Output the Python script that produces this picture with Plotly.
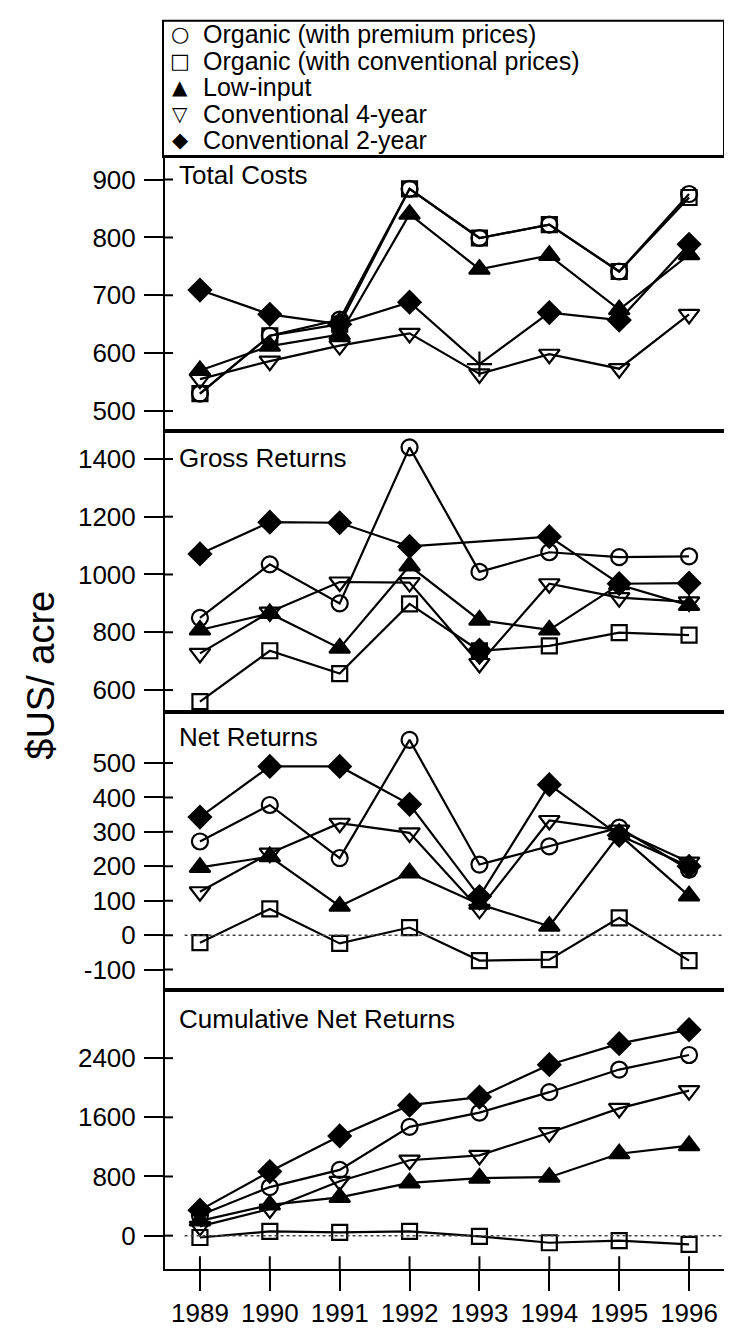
import plotly.graph_objects as go

years = [1989, 1990, 1991, 1992, 1993, 1994, 1995, 1996]

series_names = ["Organic (with premium prices)", "Organic (with conventional prices)",
                "Low-input", "Conventional 4-year", "Conventional 2-year"]

# Total Costs
cost_org_prem = [530, 630, 658, 884, 799, 822, 741, 875]
cost_org_conv = [530, 630, 650, 884, 799, 822, 741, 869]
cost_low = [570, 612, 632, 840, 745, 769, 675, 770]
cost_conv4 = [555, 586, 613, 634, 564, 598, 573, 667]
cost_conv2 = [709, 667, 650, 688, 581, 670, 657, 788]

# Gross Returns
gross_org_prem = [850, 1035, 900, 1440, 1009, 1077, 1060, 1063]
gross_org_conv = [560, 736, 657, 898, 736, 753, 799, 790]
gross_low = [808, 865, 745, 1030, 842, 808, 965, 893]
gross_conv4 = [727, 870, 974, 972, 692, 968, 920, 905]
gross_conv2 = [1071, 1181, 1179, 1097, 738, 1131, 968, 970]

# Net Returns
net_org_prem = [272, 378, 224, 567, 205, 258, 312, 190]
net_org_conv = [-22, 76, -24, 22, -74, -71, 50, -74]
net_low = [197, 228, 84, 181, 90, 26, 292, 114]
net_conv4 = [126, 238, 325, 297, 75, 333, 305, 212]
net_conv2 = [343, 490, 490, 380, 112, 437, 290, 200]

# Cumulative Net Returns
cum_org_prem = [275, 657, 889, 1471, 1664, 1940, 2246, 2443]
cum_org_conv = [-25, 57, 44, 57, -9, -96, -66, -118]
cum_low = [200, 415, 517, 714, 779, 790, 1108, 1217]
cum_conv4 = [126, 360, 735, 1020, 1086, 1392, 1721, 1961]
cum_conv2 = [345, 867, 1348, 1764, 1874, 2312, 2596, 2785]

panel_titles = ["Total Costs", "Gross Returns", "Net Returns", "Cumulative Net Returns"]
panel_ticks = [[500, 600, 700, 800, 900],
               [600, 800, 1000, 1200, 1400],
               [-100, 0, 100, 200, 300, 400, 500],
               [0, 800, 1600, 2400]]
panel_ranges = [[466, 939], [524, 1498], [-158, 648], [-451, 3328]]

y_title = "$US/ acre"

# ---------------- layout geometry (pixels) ----------------
W, H = 732, 1332
L, R, T, B = 157, 716, 149, 1283
PW, PH = R - L, B - T
bounds = [149, 428, 715, 998, 1283]
domains = [[(B - bounds[i + 1]) / PH, (B - bounds[i]) / PH] for i in range(4)]


def px_x(px):
    return (px - L) / PW


def px_y(py):
    return (B - py) / PH


FONT = "Liberation Sans, Arial, Helvetica, sans-serif"

styles = [
    dict(symbol="circle-open", size=16),
    dict(symbol="square-open", size=15),
    dict(symbol="triangle-up", size=18),
    dict(symbol="triangle-down-open", size=18),
    dict(symbol="diamond", size=17),
]

panels = [
    [cost_org_prem, cost_org_conv, cost_low, cost_conv4, cost_conv2],
    [gross_org_prem, gross_org_conv, gross_low, gross_conv4, gross_conv2],
    [net_org_prem, net_org_conv, net_low, net_conv4, net_conv2],
    [cum_org_prem, cum_org_conv, cum_low, cum_conv4, cum_conv2],
]

fig = go.Figure()

LINE_W = 2.2
for p, data in enumerate(panels):
    xa = "x" if p == 0 else f"x{p + 1}"
    ya = "y" if p == 0 else f"y{p + 1}"
    for s, vals in enumerate(data):
        st = dict(styles[s])
        symbols = [st["symbol"]] * len(years)
        sizes = [st["size"]] * len(years)
        if p == 0 and s == 4:
            # marker in 1993 drawn as a thin cross in the original
            i93 = years.index(1993)
            symbols[i93] = "cross-thin-open"
            sizes[i93] = 18
        marker = dict(symbol=symbols, size=sizes, color="black", opacity=1,
                      line=dict(color="black", width=2.2))
        if p == 1 and s == 4:
            # the original line skips the 1993 point in this panel
            i93 = years.index(1993)
            line_vals = [None if i == i93 else v for i, v in enumerate(vals)]
            fig.add_trace(go.Scatter(x=years, y=line_vals, mode="lines", connectgaps=True,
                                     line=dict(color="black", width=LINE_W),
                                     xaxis=xa, yaxis=ya, showlegend=False,
                                     hoverinfo="skip"))
            fig.add_trace(go.Scatter(x=years, y=vals, mode="markers", marker=marker,
                                     name=series_names[s], xaxis=xa, yaxis=ya,
                                     showlegend=False))
        else:
            fig.add_trace(go.Scatter(x=years, y=vals, mode="lines+markers",
                                     line=dict(color="black", width=LINE_W),
                                     marker=marker, name=series_names[s],
                                     xaxis=xa, yaxis=ya, showlegend=False))

layout = dict(
    width=W, height=H,
    margin=dict(l=L, r=W - R, t=T, b=H - B, pad=0),
    paper_bgcolor="white", plot_bgcolor="white",
    font=dict(family=FONT, size=26, color="black"),
    showlegend=False,
)

shapes = []
annotations = []

for p in range(4):
    xk = "xaxis" if p == 0 else f"xaxis{p + 1}"
    yk = "yaxis" if p == 0 else f"yaxis{p + 1}"
    ya = "y" if p == 0 else f"y{p + 1}"
    xa = "x" if p == 0 else f"x{p + 1}"
    bottom = (p == 3)
    layout[xk] = dict(
        range=[1988.5, 1996.5], anchor=ya, domain=[0, 1],
        showline=True, mirror=True, linecolor="black", linewidth=2,
        showgrid=False, zeroline=False,
        tickvals=years, ticktext=[str(y) for y in years],
        ticks="outside" if bottom else "", ticklen=20, tickwidth=2, tickcolor="black",
        showticklabels=bottom, tickfont=dict(size=26, family=FONT),
    )
    layout[yk] = dict(
        range=panel_ranges[p], domain=domains[p], anchor=xa,
        showline=True, mirror=True, linecolor="black", linewidth=2,
        showgrid=False, zeroline=False,
        tickvals=panel_ticks[p], ticktext=[str(v) for v in panel_ticks[p]],
        ticks="outside", ticklen=19, tickwidth=2, tickcolor="black",
        tickfont=dict(size=26, family=FONT), ticklabelstandoff=3,
    )
    # inner part of the crossing tick marks
    for v in panel_ticks[p]:
        shapes.append(dict(type="line", xref=f"{xa} domain", yref=ya,
                           x0=0, x1=8 / PW, y0=v, y1=v,
                           line=dict(color="black", width=2)))
    # panel title
    title_y = [167, 456, 740, 1028][p]
    annotations.append(dict(text=panel_titles[p], xref="paper", yref="paper",
                            x=px_x(169), y=px_y(title_y), xanchor="left", yanchor="middle",
                            showarrow=False, font=dict(size=26, family=FONT)))

# dotted zero lines
for p in (2, 3):
    shapes.append(dict(type="line", xref=f"x{p + 1} domain", yref=f"y{p + 1}",
                       x0=0.035, x1=1, y0=0, y1=0,
                       line=dict(color="#444444", width=1.5, dash="dot")))

# inner part of x ticks
for yr in years:
    shapes.append(dict(type="line", xref="x4", yref="y4 domain", x0=yr, x1=yr,
                       y0=0, y1=13 / (bounds[4] - bounds[3]),
                       line=dict(color="black", width=2)))

# legend box
shapes.append(dict(type="rect", xref="paper", yref="paper",
                   x0=px_x(155), x1=px_x(716), y0=px_y(149), y1=px_y(10),
                   line=dict(color="black", width=2), fillcolor="rgba(0,0,0,0)"))

legend_glyphs = ["\u25CB", "\u25A1", "\u25B2", "\u25BD", "\u25C6"]
glyph_sizes = [21, 21, 20, 20, 21]
for i, name in enumerate(series_names):
    yy = 24 + 27 * i
    annotations.append(dict(text=legend_glyphs[i], xref="paper", yref="paper",
                            x=px_x(172), y=px_y(yy), xanchor="center", yanchor="middle",
                            showarrow=False,
                            font=dict(size=glyph_sizes[i], family="DejaVu Sans")))
    annotations.append(dict(text=name, xref="paper", yref="paper",
                            x=px_x(193), y=px_y(yy), xanchor="left", yanchor="middle",
                            showarrow=False,
                            font=dict(size=25, family=FONT)))

# y axis title
annotations.append(dict(text=y_title, xref="paper", yref="paper",
                        x=px_x(33), y=px_y(678), xanchor="center", yanchor="middle",
                        textangle=-90, showarrow=False, font=dict(size=38, family=FONT)))

layout["shapes"] = shapes
layout["annotations"] = annotations
fig.update_layout(**layout)

fig.write_html("out.html")
